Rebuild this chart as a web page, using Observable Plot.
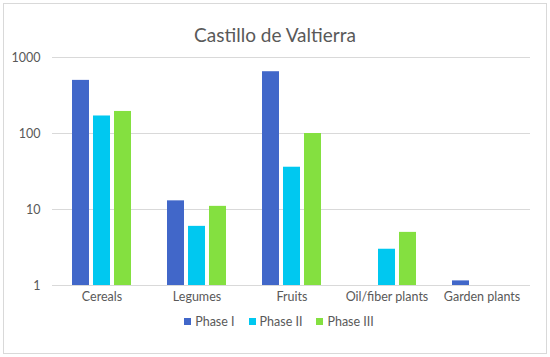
<!DOCTYPE html>
<html><head><meta charset="utf-8">
<script src="https://cdn.jsdelivr.net/npm/d3@7"></script>
<script src="https://cdn.jsdelivr.net/npm/@observablehq/plot@0.6"></script>
<style>
body{margin:0;background:#fff;font-family:Lato,"Open Sans",sans-serif;}
#wrap{position:relative;width:550px;height:357px;overflow:hidden;}
#frame{position:absolute;left:3px;top:3px;width:544px;height:351px;box-sizing:border-box;border:1px solid #d9d9d9;pointer-events:none;}
#title{height:46px;box-sizing:border-box;padding-top:24px;line-height:22px;font-size:19px;color:#595959;text-align:center;}
#legend{display:flex;justify-content:center;gap:14px;margin-top:4px;line-height:16px;font-size:12.5px;color:#595959;padding-left:8px;}
#legend span.sw{display:inline-block;width:7px;height:7px;margin-right:4px;vertical-align:1px;}
</style></head>
<body><div id="wrap"><div id="title">Castillo de Valtierra</div><div id="chart"></div><div id="legend"></div><div id="frame"></div></div>
<script>
const categories = ["Cereals","Legumes","Fruits","Oil/fiber plants","Garden plants"];
const phases = ["Phase I","Phase II","Phase III"];
const phaseColors = ["#4167C9","#00C8F0","#84E040"];
const phaseI   = [500, 13, 650, null, 1.15];
const phaseII  = [170, 6, 36, 3, null];
const phaseIII = [195, 11, 100, 5, null];
const yTicks = [1, 10, 100, 1000];

const series = [phaseI, phaseII, phaseIII];
const rowsFor = j => categories.map((c, i) => ({category: c, phase: phases[j], value: series[j][i]}))
  .filter(d => d.value != null);

// group layout inside each category band (pixels): bar width 17, gap 4
const groupW = 59, barW = 17, step = 21;

const chart = Plot.plot({
  width: 550, height: 264,
  marginLeft: 52, marginRight: 20, marginTop: 11, marginBottom: 25,
  style: {fontSize: "12.5px", color: "#595959", fontFamily: "Lato, 'Open Sans', sans-serif"},
  x: {domain: categories, paddingInner: 0.383, paddingOuter: 0.1915, label: null},
  y: {type: "log", domain: [1, 1000], label: null},
  marks: [
    Plot.gridY(yTicks, {stroke: "#d9d9d9", strokeOpacity: 1, strokeWidth: 1}),
    Plot.axisY({ticks: yTicks, tickFormat: d3.format("d"), tickSize: 0, tickPadding: 12, label: null}),
    ...phases.map((p, j) => Plot.barY(rowsFor(j), {
      x: "category", y1: 1, y2: "value", fill: phaseColors[j],
      insetLeft: step * j, insetRight: groupW - step * j - barW
    })),
    Plot.axisX({tickSize: 0, tickPadding: 7, label: null}),
  ]
});
document.getElementById("chart").appendChild(chart);

const leg = document.getElementById("legend");
phases.forEach((p, j) => {
  const d = document.createElement("div");
  d.innerHTML = `<span class="sw" style="background:${phaseColors[j]}"></span>${p}`;
  leg.appendChild(d);
});
</script></body></html>
